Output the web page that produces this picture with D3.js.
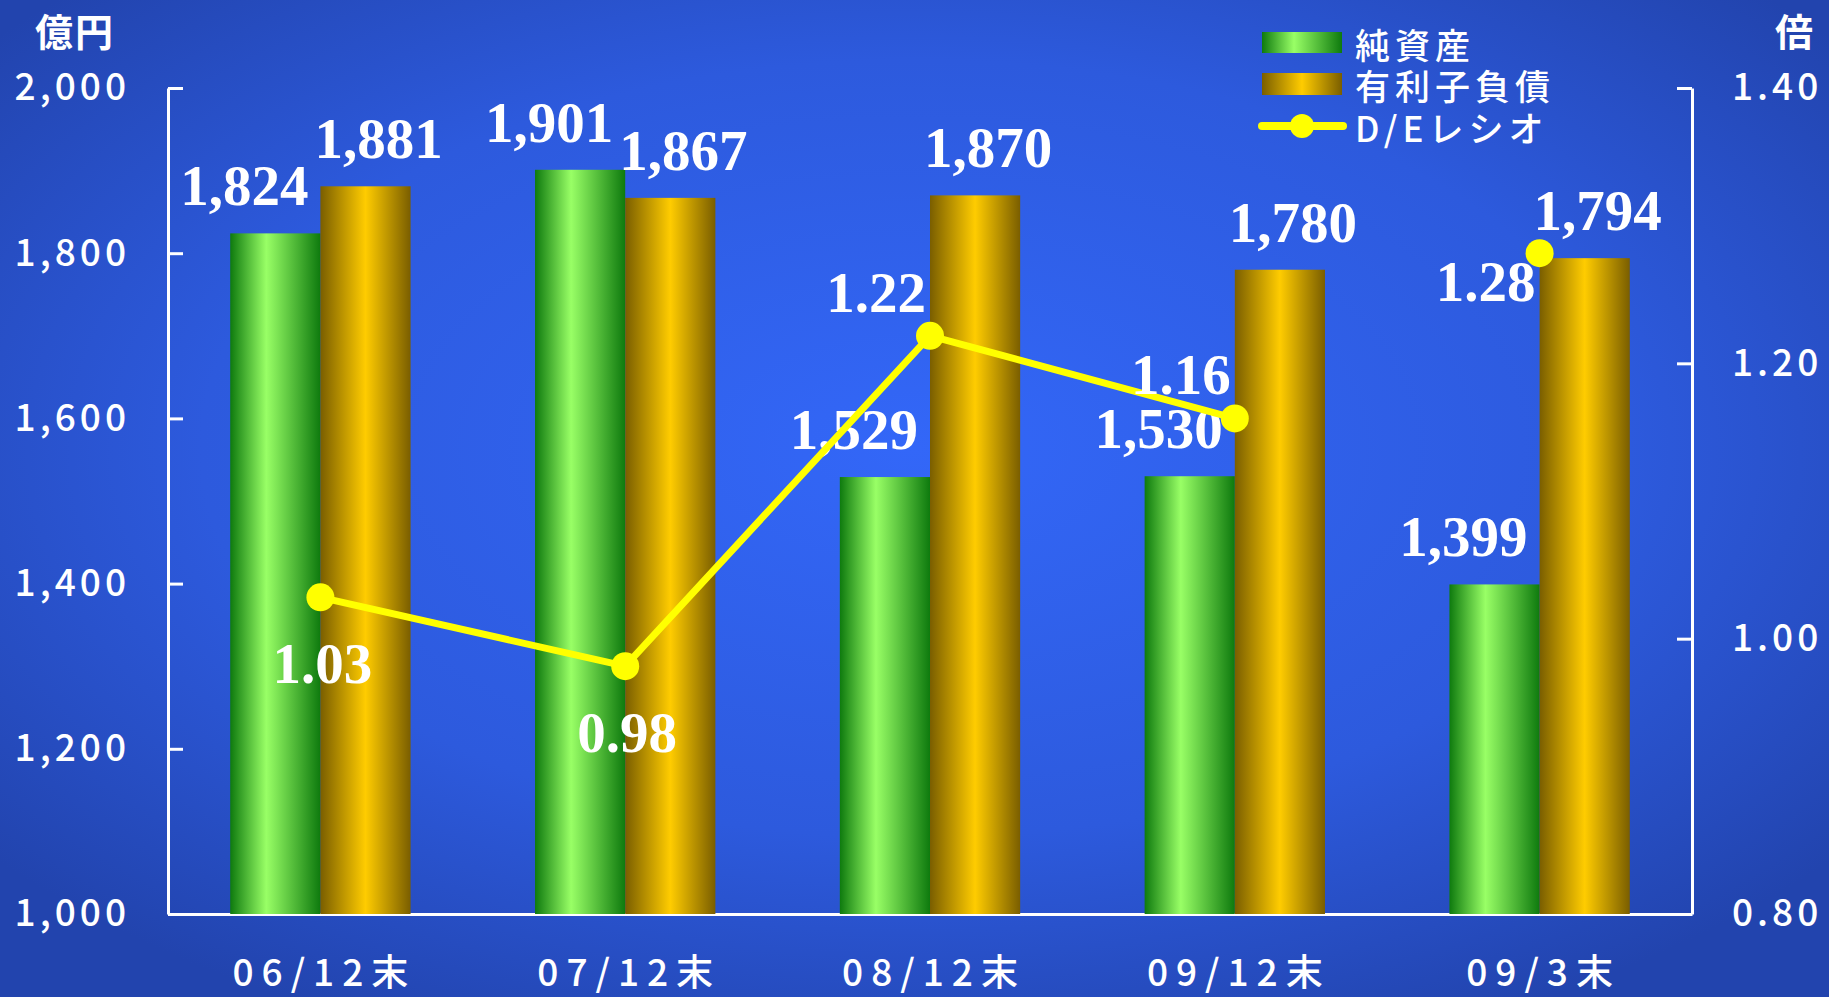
<!DOCTYPE html>
<html>
<head>
<meta charset="utf-8">
<script src="https://cdn.jsdelivr.net/npm/d3@7"></script>
<style>
  body { margin: 0; background: #2448b4; }
  svg { display: block; }
</style>
</head>
<body>
<div id="chart"></div>
<script>
// chart data
var categories = ["06/12末", "07/12末", "08/12末", "09/12末", "09/3末"];
var netAssets = [1824, 1901, 1529, 1530, 1399];     // 純資産 (億円)
var debt = [1881, 1867, 1870, 1780, 1794];          // 有利子負債 (億円)
var deRatio = [1.03, 0.98, 1.22, 1.16, 1.28];       // D/Eレシオ (倍)
var leftTicks = [1000, 1200, 1400, 1600, 1800, 2000];
var rightTicks = [0.8, 1.0, 1.2, 1.4];
var seriesNames = ["純資産", "有利子負債", "D/Eレシオ"];

// where each ratio label sits relative to its point
var ratioLabelSide = ["below", "below", "above-left", "above-left", "below-left"];

(function() {
  var width = 1829,
      height = 997;
  var plotLeft = 168, plotRight = 1692, plotTop = 88, plotBottom = 914;

  var sans = "'Noto Sans CJK JP', 'Noto Sans', sans-serif";
  var serif = "'Liberation Serif', 'Times New Roman', serif";

  var svg = d3.select("#chart").append("svg")
    .attr("width", width)
    .attr("height", height);

  var defs = svg.append("defs");

  // background: brighter blue in the middle, darker at edges
  var bg = defs.append("radialGradient")
    .attr("id", "bg")
    .attr("cx", 0.5).attr("cy", 0.45).attr("r", 0.65);
  bg.append("stop").attr("offset", 0).attr("stop-color", "#3367f8");
  bg.append("stop").attr("offset", 0.6).attr("stop-color", "#2d5add");
  bg.append("stop").attr("offset", 1).attr("stop-color", "#2244ae");

  // cylinder look for the bars
  function barGradient(id, dark, light, mid) {
    var g = defs.append("linearGradient").attr("id", id)
      .attr("x1", 0).attr("x2", 1).attr("y1", 0).attr("y2", 0);
    g.append("stop").attr("offset", 0).attr("stop-color", dark);
    g.append("stop").attr("offset", mid).attr("stop-color", light);
    g.append("stop").attr("offset", 1).attr("stop-color", dark);
  }
  barGradient("gGreen", "#0e7a0e", "#99ff66", 0.4);
  barGradient("gGold", "#7a5e00", "#ffcc00", 0.5);

  svg.append("rect")
    .attr("width", width)
    .attr("height", height)
    .attr("fill", "url(#bg)");

  // scales
  var x = d3.scaleBand().domain(categories).range([plotLeft, plotRight]);
  var xSub = d3.scaleBand().domain(["net", "debt"]).range([0, x.bandwidth()]).paddingOuter(0.69);
  var y = d3.scaleLinear().domain([1000, 2000]).range([plotBottom, plotTop]);
  var yR = d3.scaleLinear().domain([0.8, 1.4]).range([plotBottom, plotTop]);

  // axes
  var axisStyle = function(g) {
    g.selectAll("path, line").attr("stroke", "#fff").attr("stroke-width", 3);
    g.selectAll("text").attr("fill", "#fff").attr("font-family", sans).attr("font-weight", 500);
  };

  svg.append("g")
    .attr("transform", "translate(" + plotLeft + ",0)")
    .call(d3.axisLeft(y).tickValues(leftTicks).tickFormat(d3.format(","))
      .tickSize(-15).tickSizeOuter(0).tickPadding(42))
    .call(axisStyle)
    .selectAll("text")
    .attr("font-size", 37)
    .attr("letter-spacing", 4)
    .attr("dx", 4);

  svg.append("g")
    .attr("transform", "translate(" + plotRight + ",0)")
    .call(d3.axisRight(yR).tickValues(rightTicks).tickFormat(d3.format(".2f"))
      .tickSize(-15).tickSizeOuter(0).tickPadding(40))
    .call(axisStyle)
    .selectAll("text")
    .attr("font-size", 37)
    .attr("letter-spacing", 4);

  svg.append("g")
    .attr("transform", "translate(0," + plotBottom + ")")
    .call(d3.axisBottom(x).tickSize(0).tickPadding(46))
    .call(axisStyle)
    .selectAll("text")
    .attr("font-size", 37)
    .attr("letter-spacing", 8)
    .attr("dx", 4);

  // unit labels
  svg.append("text")
    .attr("x", 75).attr("y", 29)
    .attr("text-anchor", "middle").attr("dominant-baseline", "central")
    .attr("font-family", sans).attr("font-size", 38).attr("font-weight", "bold")
    .attr("letter-spacing", 2)
    .attr("fill", "#fff")
    .text("億円");

  svg.append("text")
    .attr("x", 1794).attr("y", 29)
    .attr("text-anchor", "middle").attr("dominant-baseline", "central")
    .attr("font-family", sans).attr("font-size", 38).attr("font-weight", "bold")
    .attr("fill", "#fff")
    .text("倍");

  // bars
  var rows = categories.map(function(c, i) {
    return { cat: c, net: netAssets[i], debt: debt[i], ratio: deRatio[i], side: ratioLabelSide[i] };
  });

  var groups = svg.selectAll(".group")
    .data(rows)
    .enter().append("g")
    .attr("class", "group")
    .attr("transform", function(d) { return "translate(" + x(d.cat) + ",0)"; });

  groups.append("rect")
    .attr("x", xSub("net"))
    .attr("width", xSub.bandwidth())
    .attr("y", function(d) { return y(d.net); })
    .attr("height", function(d) { return plotBottom - y(d.net); })
    .attr("fill", "url(#gGreen)");

  groups.append("rect")
    .attr("x", xSub("debt"))
    .attr("width", xSub.bandwidth())
    .attr("y", function(d) { return y(d.debt); })
    .attr("height", function(d) { return plotBottom - y(d.debt); })
    .attr("fill", "url(#gGold)");

  // D/E ratio line: only the year-end points are joined, the 3月末 point stands alone
  var cx = function(d) { return x(d.cat) + x.bandwidth() / 2; };
  var yearEnd = function(d) { return d.cat.indexOf("/12") > -1; };

  var line = d3.line()
    .defined(yearEnd)
    .x(cx)
    .y(function(d) { return yR(d.ratio); });

  svg.append("path")
    .datum(rows)
    .attr("d", line)
    .attr("fill", "none")
    .attr("stroke", "#ffff00")
    .attr("stroke-width", 7)
    .attr("stroke-linejoin", "round");

  svg.selectAll(".dot")
    .data(rows)
    .enter().append("circle")
    .attr("class", "dot")
    .attr("cx", cx)
    .attr("cy", function(d) { return yR(d.ratio); })
    .attr("r", 14)
    .attr("fill", "#ffff00");

  // value labels
  var fmt = d3.format(",");

  groups.append("text")
    .attr("x", xSub("debt") - 12)
    .attr("y", function(d) { return y(d.net) - 28; })
    .attr("text-anchor", "end")
    .attr("font-family", serif).attr("font-size", 57).attr("font-weight", "bold")
    .attr("fill", "#fff")
    .text(function(d) { return fmt(d.net); });

  groups.append("text")
    .attr("x", xSub("debt") - 6)
    .attr("y", function(d) { return y(d.debt) - 28; })
    .attr("text-anchor", "start")
    .attr("font-family", serif).attr("font-size", 57).attr("font-weight", "bold")
    .attr("fill", "#fff")
    .text(function(d) { return fmt(d.debt); });

  svg.selectAll(".ratio-label")
    .data(rows)
    .enter().append("text")
    .attr("class", "ratio-label")
    .attr("x", function(d) {
      if (d.side === "below") return cx(d) + 2;
      return cx(d) - 4;
    })
    .attr("y", function(d) {
      var py = yR(d.ratio);
      if (d.side === "below") return py + 86;
      if (d.side === "above-left") return py - 24;
      return py + 48;
    })
    .attr("text-anchor", function(d) { return d.side === "below" ? "middle" : "end"; })
    .attr("font-family", serif).attr("font-size", 57).attr("font-weight", "bold")
    .attr("fill", "#fff")
    .text(function(d) { return d.ratio.toFixed(2); });

  // legend
  var legend = svg.append("g").attr("transform", "translate(1262,0)");
  var legendY = [43, 84, 126];

  legend.append("rect")
    .attr("x", 0).attr("y", legendY[0] - 11)
    .attr("width", 80).attr("height", 21)
    .attr("fill", "url(#gGreen)");

  legend.append("rect")
    .attr("x", 0).attr("y", legendY[1] - 11)
    .attr("width", 80).attr("height", 22)
    .attr("fill", "url(#gGold)");

  legend.append("line")
    .attr("x1", 0).attr("x2", 81)
    .attr("y1", legendY[2]).attr("y2", legendY[2])
    .attr("stroke", "#ffff00").attr("stroke-width", 8)
    .attr("stroke-linecap", "round");

  legend.append("circle")
    .attr("cx", 40).attr("cy", legendY[2]).attr("r", 12)
    .attr("fill", "#ffff00");

  legend.selectAll(".legend-text")
    .data(seriesNames)
    .enter().append("text")
    .attr("class", "legend-text")
    .attr("x", 93)
    .attr("y", function(d, i) { return legendY[i]; })
    .attr("dominant-baseline", "central")
    .attr("font-family", sans).attr("font-size", 35).attr("font-weight", 500)
    .attr("letter-spacing", 5)
    .attr("fill", "#fff")
    .text(function(d) { return d; });
})();
</script>
</body>
</html>
